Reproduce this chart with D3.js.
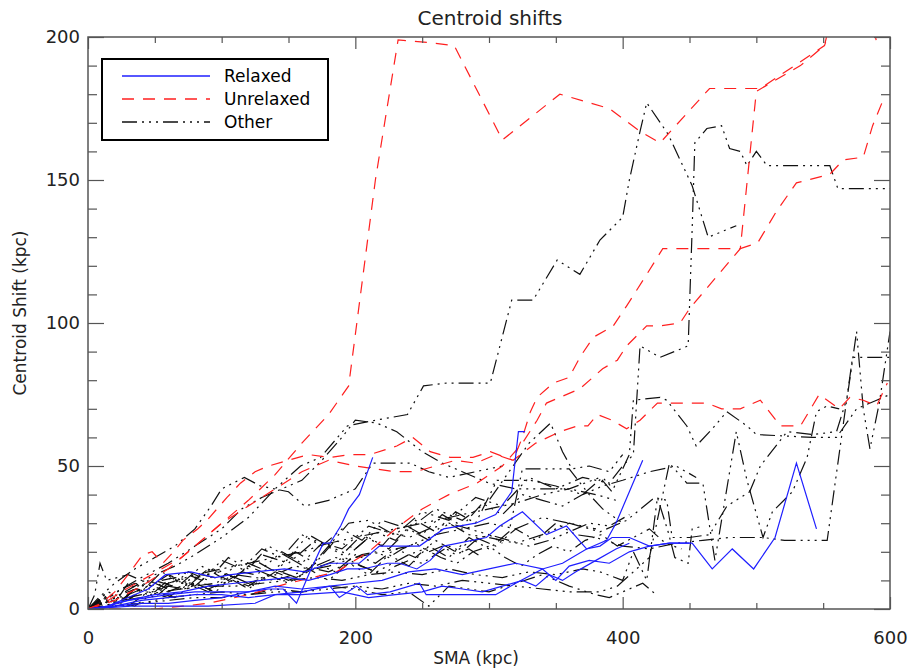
<!DOCTYPE html>
<html>
<head>
<meta charset="utf-8">
<script src="https://cdn.jsdelivr.net/npm/d3@7/dist/d3.min.js"></script>
<style>
  body { margin: 0; background: #fff; }
  text { font-family: "DejaVu Sans", sans-serif; }
</style>
</head>
<body>
<div id="wrapper"></div>
<script>
// SMA (kpc), centroid shift (kpc) pairs
const relaxedLines = [
  [[0,0],[10,0],[20,2],[30,3],[45,4],[60,5],[80,6],[100,6],[120,6],[135,7],[146,7],[156,2],[166,13],[176,23],[181,23],[189,29],[195,35],[203,40],[213,53]],
  [[0,0],[15,1],[30,4],[45,7],[58,12],[77,13],[95,11],[107,12],[125,13],[147,14],[162,13],[181,16],[203,16],[218,22],[248,22],[266,28],[290,30],[305,33],[317,41],[322,62],[327,62]],
  [[0,0],[15,1],[30,3],[50,5],[70,6],[90,8],[110,9],[130,10],[150,11],[165,10],[181,12],[194,14],[206,14],[224,16],[233,16],[246,14],[256,17],[266,22],[298,25],[308,29],[325,34],[343,26],[358,29],[373,21],[383,22],[392,25],[405,25],[420,22],[435,23],[452,23],[467,14],[482,21],[498,14],[514,25],[530,51],[545,28]],
  [[0,0],[20,1],[40,3],[60,4],[80,5],[100,5],[120,4],[140,5],[160,6],[181,8],[200,9],[220,10],[240,13],[260,14],[280,12],[300,14],[320,16],[340,14],[355,16],[373,21],[388,24],[395,30],[405,41],[415,52]],
  [[0,0],[20,1],[40,2],[60,2],[80,3],[100,4],[120,6],[140,8],[160,7],[181,8],[188,4],[201,8],[209,5],[226,6],[248,9],[253,5],[271,5],[290,5],[305,5],[320,9],[340,14],[350,10],[360,15],[375,17],[390,16],[405,20],[420,22],[435,23],[450,23]],
  [[0,0],[32,1],[60,1],[90,1],[125,2],[140,5],[160,5],[190,6],[210,4],[230,5],[250,6],[265,8],[280,7],[295,6],[310,8],[325,10],[335,8],[345,12],[355,10],[365,13],[380,17],[395,21],[405,23]]
]

const unrelaxedLines = [
  [[0,0],[12,2],[25,6],[40,10],[55,14],[70,18],[85,24],[100,30],[120,38],[140,47],[160,58],[180,68],[195,78],[215,150],[232,199],[256,198],[274,197],[310,164],[353,180],[390,175],[413,167],[428,163],[465,182],[503,182],[551,197],[560,210]],
  [[0,0],[36,0],[50,0],[71,1],[90,2],[120,5],[150,9],[186,13],[210,20],[230,28],[250,35],[270,40],[291,44],[310,50],[325,58],[336,66],[343,72],[353,74],[368,77],[385,84],[396,87],[403,92],[418,99],[428,99],[443,100],[450,105],[488,126],[500,181],[533,190],[551,197],[555,205],[585,210],[590,198],[600,205]],
  [[0,0],[20,3],[40,8],[60,14],[80,22],[100,30],[120,36],[140,42],[160,48],[180,52],[200,50],[215,49],[230,48],[245,48],[260,50],[275,52],[290,51],[305,54],[318,52],[325,60],[331,69],[336,74],[348,79],[360,81],[368,88],[378,95],[393,99],[403,106],[418,117],[430,126],[488,126],[501,128],[515,139],[530,149],[555,152],[565,157],[580,158],[587,169],[594,177],[600,177]],
  [[0,0],[10,2],[20,6],[30,12],[41,19],[48,20],[56,16],[64,20],[71,24],[82,28],[89,31],[104,39],[114,44],[125,48],[135,50],[150,52],[165,54],[181,53],[196,54],[211,54],[231,57],[243,60],[256,55],[271,53],[288,53],[301,55],[318,52],[335,58],[353,62],[366,64],[374,64],[381,68],[392,66],[403,63],[413,66],[426,72],[445,72],[463,72],[474,70],[488,70],[503,73],[518,64],[533,64],[547,75],[562,70],[570,74],[580,73],[590,71],[598,79]]
]

const otherLines = [
  [[0,0],[10,2],[20,4],[35,8],[50,12],[65,15],[80,19],[100,25],[120,32],[140,42],[159,50],[174,53],[194,64],[215,66],[239,68],[251,78],[268,79],[301,79],[317,108],[333,108],[351,122],[368,117],[383,129],[400,137],[405,150],[413,167],[418,177],[434,166],[452,148],[464,130],[485,134]],
  [[0,0],[15,5],[30,3],[50,10],[70,7],[90,14],[110,11],[130,19],[150,16],[170,24],[190,21],[210,29],[230,26],[250,34],[270,31],[290,39],[310,36],[330,46],[350,42],[370,46],[390,44],[400,50],[408,54],[413,92],[428,88],[449,92],[452,133],[454,163],[463,168],[474,169],[480,161],[488,160],[493,155],[500,160],[508,155],[555,155],[561,147],[600,147]],
  [[0,0],[10,3],[25,7],[40,11],[60,16],[80,22],[100,28],[115,35],[130,39],[145,42],[160,45],[175,52],[190,60],[200,66],[216,65],[231,62],[250,55],[265,51],[280,48],[300,44],[320,42],[340,42],[360,42],[380,40],[395,38]],
  [[0,0],[8,4],[20,9],[35,14],[50,18],[65,22],[80,28],[92,36],[100,42],[117,46],[129,43],[150,41],[162,36],[180,38],[200,42],[213,51],[231,51],[241,51],[255,48],[270,46],[290,48],[310,50]],
  [[0,0],[5,5],[9,16],[14,10],[22,11],[30,12],[40,10],[50,9],[60,12],[70,10],[80,8],[95,9],[110,12],[125,11],[140,10],[160,13],[180,15],[200,18],[220,20],[240,22],[260,26],[280,28],[300,30],[320,28],[340,32],[360,30],[380,28]],
  [[0,0],[12,4],[25,2],[38,9],[50,6],[62,11],[75,8],[90,14],[105,10],[120,15],[135,12],[150,18],[165,14],[180,22],[195,19],[210,25],[225,21],[240,28],[255,24],[270,30],[285,26],[300,25],[320,23],[340,26],[360,30],[383,27],[403,31],[424,39],[433,38],[437,25],[450,25],[465,26],[478,36],[495,41],[503,50],[523,62],[542,61],[560,62],[568,74],[575,97],[580,70],[585,56],[592,72],[600,97]],
  [[0,0],[18,3],[35,1],[50,6],[65,4],[80,9],[95,6],[110,11],[125,8],[140,13],[155,10],[170,16],[185,13],[200,19],[215,16],[230,21],[245,18],[260,24],[275,20],[290,25],[305,22],[320,28],[335,24],[350,30],[365,26],[380,25],[400,22],[420,21],[440,23],[460,24],[480,25],[505,25],[521,24],[553,24],[572,88],[600,88]],
  [[0,0],[15,3],[30,5],[45,8],[60,9],[80,12],[100,14],[120,16],[140,18],[160,20],[180,23],[200,25],[220,27],[240,29],[260,31],[280,33],[300,35],[320,37],[340,40],[360,42],[383,46],[392,41],[405,54],[408,73],[428,74],[433,73],[448,64],[455,57],[467,63],[478,69],[493,64],[500,61],[542,60],[560,60],[575,70],[590,73],[600,75]],
  [[0,0],[12,1],[25,3],[40,4],[55,6],[70,7],[90,8],[110,8],[130,9],[150,10],[170,11],[190,10],[210,12],[230,13],[250,12],[270,14],[290,12],[310,11],[330,13],[350,12],[370,14],[383,13],[400,10],[408,20],[418,10],[426,39],[434,27],[439,18],[449,16],[452,28],[460,29]],
  [[0,0],[20,1],[40,2],[60,3],[80,4],[100,4],[120,5],[140,6],[160,6],[180,7],[200,8],[220,7],[240,9],[260,8],[280,10],[300,9],[320,8],[340,7],[360,6],[383,6],[396,8],[420,18],[435,51],[448,44],[460,44],[465,29],[469,17],[485,62],[493,45],[505,25],[512,34],[527,41],[538,53],[545,69],[553,71],[562,70]],
  [[0,0],[12,5],[25,3],[40,9],[55,7],[70,13],[85,10],[100,17],[115,14],[130,21],[145,18],[160,26],[175,22],[190,28],[205,24],[220,31],[240,28],[260,35],[280,31],[300,38],[315,48],[330,58],[346,65],[355,55],[362,49],[375,50],[390,48],[400,54]],
  [[0,0],[10,3],[20,1],[35,7],[50,4],[65,10],[80,8],[95,14],[110,11],[125,17],[140,13],[155,20],[170,16],[185,24],[200,21],[215,27],[230,24],[245,31],[260,27],[275,34],[290,30],[306,45],[331,45],[350,43],[370,40],[385,46],[393,42]],
  [[0,0],[15,3],[30,1],[45,6],[60,4],[75,9],[90,6],[105,11],[120,7],[135,12],[150,9],[165,14],[180,10],[195,16],[210,12],[225,19],[240,15],[255,22],[270,18],[285,25],[300,21],[315,27],[325,49],[345,49],[360,49],[375,40],[385,35],[400,30]],
  [[0,0],[20,1],[40,2],[60,4],[80,5],[100,6],[120,5],[140,7],[160,6],[180,8],[200,7],[220,5],[240,6],[255,1],[270,8],[300,6],[320,9],[340,12],[360,8],[380,5],[390,4],[405,7],[415,9],[425,5]],
  [[0,0],[10,4],[20,2],[30,9],[40,6],[55,13],[70,9],[85,15],[100,11],[115,17],[130,14],[145,20],[160,16],[175,23],[190,19],[205,26],[220,22],[235,30],[250,26],[265,33],[280,29],[295,37],[310,33],[325,40],[340,38],[355,36],[370,40],[385,43],[400,45],[420,48],[440,50],[455,46]],
  [[0,0],[15,6],[30,3],[45,10],[60,7],[75,13],[90,10],[105,18],[120,14],[135,22],[150,18],[165,26],[180,22],[195,30],[210,31],[225,27],[240,25],[255,28],[270,30],[285,28],[300,26],[315,24],[330,22],[345,24],[360,27],[375,30],[390,29],[405,33]],
  [[0,0],[8,2],[16,4],[25,7],[35,9],[45,8],[55,10],[65,11],[75,10],[85,12],[95,11],[105,10],[115,13],[125,12],[135,14],[145,13],[155,15],[165,14],[175,16],[185,18],[195,17],[205,19],[215,20],[225,18],[235,21],[245,23],[255,20],[265,22],[275,19],[285,21],[295,18]],
  [[0,0],[10,1],[20,2],[30,4],[40,5],[50,7],[60,6],[70,8],[80,9],[90,7],[100,9],[110,10],[120,8],[130,11],[140,12],[150,10],[160,12],[170,14],[180,13],[190,15],[200,16],[210,14],[220,12],[230,15],[240,17],[250,16],[260,19],[270,22],[280,20],[290,24],[300,26],[310,23]],
  [[0,0],[12,2],[24,5],[36,7],[48,6],[60,8],[72,7],[84,9],[96,8],[108,10],[120,9],[132,11],[144,13],[156,11],[168,14],[180,16],[192,18],[204,15],[216,13],[228,16],[240,19],[252,21],[264,18],[276,16],[288,20],[300,22],[312,18],[324,15],[336,19],[348,22],[360,20],[372,24],[384,26],[396,22],[408,25],[420,28],[432,23],[444,21]]
]

const xMajorTicks = [0, 200, 400, 600]
const xMinorTicks = [50, 100, 150, 250, 300, 350, 450, 500, 550]
const yMajorTicks = [0, 50, 100, 150, 200]
const yMinorTicks = [10, 20, 30, 40, 60, 70, 80, 90, 110, 120, 130, 140, 160, 170, 180, 190]
const legendLabels = ["Relaxed", "Unrelaxed", "Other"]

const colors = { relaxed: "#1f1fff", unrelaxed: "#ff1f1f", other: "#111" }
const dashes = { relaxed: null, unrelaxed: "12,9", other: "15,5,2,5,2,5,2,5" }

function drawChart() {
  let dimensions = {
    width: 917,
    height: 671,
    margin: { top: 37, right: 27, bottom: 62, left: 88 }
  }
  dimensions.boundedWidth = dimensions.width - dimensions.margin.left - dimensions.margin.right
  dimensions.boundedHeight = dimensions.height - dimensions.margin.top - dimensions.margin.bottom

  const wrapper = d3.select("#wrapper")
    .append("svg")
      .attr("width", dimensions.width)
      .attr("height", dimensions.height)
      .style("display", "block")
      .style("background", "#fff")

  const bounds = wrapper.append("g")
    .attr("transform", `translate(${dimensions.margin.left},${dimensions.margin.top})`)

  const xScale = d3.scaleLinear()
    .domain([0, 600])
    .range([0, dimensions.boundedWidth])

  const yScale = d3.scaleLinear()
    .domain([0, 200])
    .range([dimensions.boundedHeight, 0])

  bounds.append("clipPath")
      .attr("id", "plot-clip")
    .append("rect")
      .attr("width", dimensions.boundedWidth)
      .attr("height", dimensions.boundedHeight)

  const lineGenerator = d3.line()
    .x(d => xScale(d[0]))
    .y(d => yScale(d[1]))

  const plot = bounds.append("g").attr("clip-path", "url(#plot-clip)")

  const drawGroup = (lines, key) => {
    plot.append("g")
      .selectAll("path")
      .data(lines)
      .join("path")
        .attr("d", lineGenerator)
        .attr("fill", "none")
        .attr("stroke", colors[key])
        .attr("stroke-width", 1.2)
        .attr("stroke-dasharray", dashes[key])
  }
  drawGroup(otherLines, "other")
  drawGroup(unrelaxedLines, "unrelaxed")
  drawGroup(relaxedLines, "relaxed")

  // axes, ticks pointing inward on all four sides
  const axisColor = "#555"
  const addAxis = (gen, transform, showLabels) => {
    const g = bounds.append("g").attr("transform", transform).call(gen)
    g.select(".domain").remove()
    g.selectAll(".tick line").attr("stroke", axisColor).attr("stroke-width", 1.2)
    if (!showLabels) g.selectAll(".tick text").remove()
    return g
  }

  const xBottom = addAxis(d3.axisBottom(xScale).tickValues(xMajorTicks).tickSize(-12).tickPadding(22),
    `translate(0,${dimensions.boundedHeight})`, true)
  xBottom.selectAll(".tick text")
    .attr("font-size", 18)
    .attr("font-family", "DejaVu Sans")
    .attr("fill", "#222")
  addAxis(d3.axisBottom(xScale).tickValues(xMinorTicks).tickSize(-6),
    `translate(0,${dimensions.boundedHeight})`, false)
  addAxis(d3.axisTop(xScale).tickValues(xMajorTicks).tickSize(-12), "translate(0,0)", false)
  addAxis(d3.axisTop(xScale).tickValues(xMinorTicks).tickSize(-6), "translate(0,0)", false)

  const yLeft = addAxis(d3.axisLeft(yScale).tickValues(yMajorTicks).tickSize(-16).tickPadding(8),
    "translate(0,0)", true)
  yLeft.selectAll(".tick text")
    .attr("font-size", 18)
    .attr("font-family", "DejaVu Sans")
    .attr("fill", "#222")
  addAxis(d3.axisLeft(yScale).tickValues(yMinorTicks).tickSize(-9), "translate(0,0)", false)
  addAxis(d3.axisRight(yScale).tickValues(yMajorTicks).tickSize(-16),
    `translate(${dimensions.boundedWidth},0)`, false)
  addAxis(d3.axisRight(yScale).tickValues(yMinorTicks).tickSize(-9),
    `translate(${dimensions.boundedWidth},0)`, false)

  bounds.append("rect")
    .attr("width", dimensions.boundedWidth)
    .attr("height", dimensions.boundedHeight)
    .attr("fill", "none")
    .attr("stroke", axisColor)
    .attr("stroke-width", 1.5)

  // titles
  wrapper.append("text")
    .attr("x", 490).attr("y", 25)
    .attr("text-anchor", "middle")
    .attr("font-size", 20)
    .attr("fill", "#222")
    .text("Centroid shifts")

  wrapper.append("text")
    .attr("x", 476).attr("y", 664)
    .attr("text-anchor", "middle")
    .attr("font-size", 17)
    .attr("fill", "#222")
    .text("SMA (kpc)")

  wrapper.append("text")
    .attr("transform", "translate(26,313) rotate(-90)")
    .attr("text-anchor", "middle")
    .attr("font-size", 17)
    .attr("fill", "#222")
    .text("Centroid Shift (kpc)")

  // legend
  const legend = wrapper.append("g").attr("transform", "translate(102,59)")
  legend.append("rect")
    .attr("width", 226).attr("height", 81)
    .attr("fill", "#fff")
    .attr("stroke", "#000")
    .attr("stroke-width", 2)

  const legendKeys = ["relaxed", "unrelaxed", "other"]
  const legendRows = legend.selectAll("g.row")
    .data(legendLabels)
    .join("g")
      .attr("class", "row")
      .attr("transform", (d, i) => `translate(0,${17 + i * 23})`)

  legendRows.append("line")
    .attr("x1", 20).attr("x2", 108)
    .attr("stroke", (d, i) => colors[legendKeys[i]])
    .attr("stroke-width", 1.5)
    .attr("stroke-dasharray", (d, i) => dashes[legendKeys[i]])

  legendRows.append("text")
    .attr("x", 122).attr("y", 6)
    .attr("font-size", 17)
    .attr("fill", "#000")
    .text(d => d)
}

drawChart()
</script>
</body>
</html>
